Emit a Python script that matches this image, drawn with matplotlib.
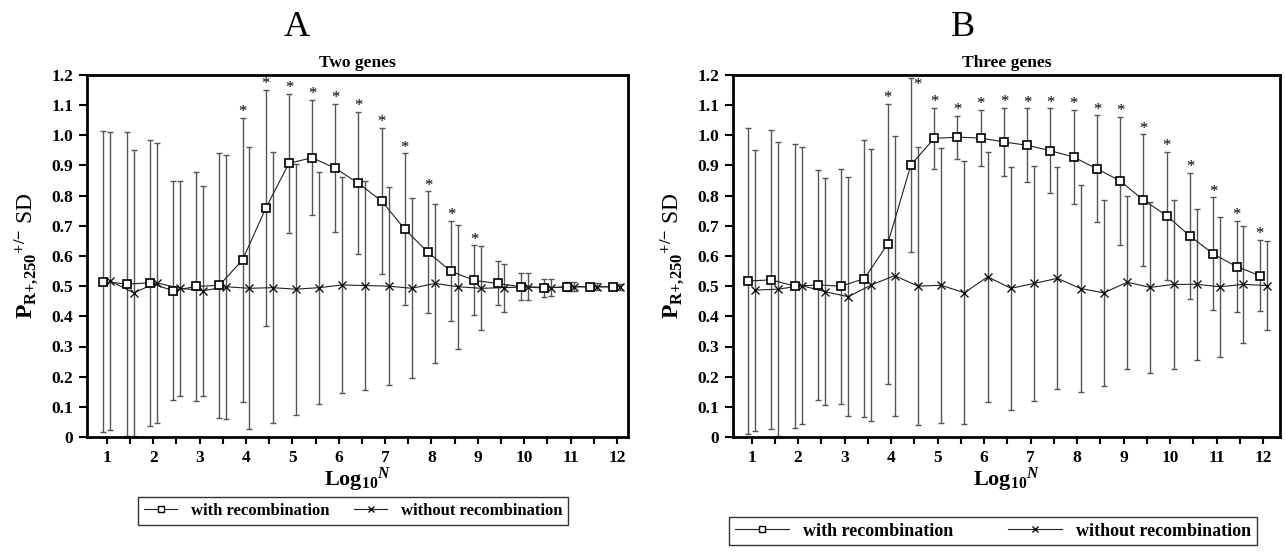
import matplotlib
matplotlib.use("Agg")
from matplotlib import pyplot as plt
from matplotlib.lines import Line2D
import numpy as np

plt.rcParams['font.family'] = ['Liberation Serif', 'DejaVu Serif']
plt.rcParams['font.weight'] = 'bold'
plt.rcParams['mathtext.fontset'] = 'custom'
plt.rcParams['mathtext.rm'] = 'Liberation Serif:bold'
plt.rcParams['mathtext.bf'] = 'Liberation Serif:bold'
plt.rcParams['mathtext.it'] = 'Liberation Serif:bold:italic'

# log10 N
log_n = [1, 1.5, 2, 2.5, 3, 3.5, 4, 4.5, 5, 5.5, 6, 6.5,
         7, 7.5, 8, 8.5, 9, 9.5, 10, 10.5, 11, 11.5, 12]

# two genes
a_rec_mean = [0.515, 0.507, 0.511, 0.485, 0.499, 0.503, 0.587, 0.758, 0.907, 0.926, 0.891, 0.841,
              0.782, 0.689, 0.612, 0.549, 0.519, 0.509, 0.498, 0.494, 0.498, 0.498, 0.498]
a_rec_sd = [0.498, 0.503, 0.474, 0.363, 0.380, 0.440, 0.472, 0.391, 0.230, 0.190, 0.213, 0.235,
            0.243, 0.251, 0.202, 0.166, 0.116, 0.073, 0.045, 0.030, 0.015, 0.010, 0.008]
a_norec_mean = [0.517, 0.478, 0.511, 0.493, 0.485, 0.498, 0.493, 0.495, 0.490, 0.495, 0.504, 0.502,
                0.500, 0.493, 0.509, 0.498, 0.493, 0.495, 0.498, 0.495, 0.498, 0.498, 0.498]
a_norec_sd = [0.493, 0.474, 0.463, 0.356, 0.348, 0.438, 0.467, 0.450, 0.416, 0.384, 0.357, 0.345,
              0.328, 0.298, 0.264, 0.205, 0.139, 0.079, 0.045, 0.028, 0.015, 0.012, 0.010]
a_star = [0, 0, 0, 0, 0, 0, 1, 1, 1, 1, 1, 1, 1, 1, 1, 1, 1, 0, 0, 0, 0, 0, 0]

# three genes
b_rec_mean = [0.517, 0.521, 0.500, 0.504, 0.500, 0.525, 0.640, 0.902, 0.990, 0.994, 0.991, 0.978,
              0.967, 0.949, 0.928, 0.889, 0.849, 0.785, 0.734, 0.666, 0.607, 0.565, 0.535]
b_rec_sd = [0.506, 0.496, 0.470, 0.380, 0.389, 0.460, 0.464, 0.288, 0.100, 0.071, 0.092, 0.113,
            0.122, 0.140, 0.157, 0.177, 0.212, 0.218, 0.212, 0.210, 0.187, 0.152, 0.118]
b_norec_mean = [0.487, 0.490, 0.502, 0.482, 0.465, 0.504, 0.535, 0.500, 0.503, 0.478, 0.531, 0.493,
                0.509, 0.526, 0.492, 0.478, 0.513, 0.496, 0.506, 0.506, 0.498, 0.506, 0.502]
b_norec_sd = [0.466, 0.487, 0.460, 0.376, 0.396, 0.450, 0.464, 0.460, 0.456, 0.436, 0.415, 0.402,
              0.390, 0.368, 0.343, 0.309, 0.287, 0.284, 0.280, 0.250, 0.232, 0.194, 0.148]
b_star = [0, 0, 0, 0, 0, 0, 1, 1, 1, 1, 1, 1, 1, 1, 1, 1, 1, 1, 1, 1, 1, 1, 1]

y_ticks = [0, 0.1, 0.2, 0.3, 0.4, 0.5, 0.6, 0.7, 0.8, 0.9, 1.0, 1.1, 1.2]
y_ticklabels = ['0', '0.1', '0.2', '0.3', '0.4', '0.5', '0.6', '0.7', '0.8', '0.9', '1.0', '1.1', '1.2']

SHIFT = 0.075  # side-by-side offset of the two series


def draw_panel(ax, rec_mean, rec_sd, norec_mean, norec_sd, stars, xlim, title):
    x = np.array(log_n)
    rm, rs = np.array(rec_mean), np.array(rec_sd)
    nm, ns = np.array(norec_mean), np.array(norec_sd)

    ax.errorbar(x + SHIFT, nm, yerr=ns, fmt='none', ecolor='#555555', elinewidth=1.0,
                capsize=2.3, capthick=1.0, zorder=2)
    ax.errorbar(x - SHIFT, rm, yerr=rs, fmt='none', ecolor='#555555', elinewidth=1.0,
                capsize=2.3, capthick=1.0, zorder=2)
    ax.plot(x + SHIFT, nm, color='#222222', lw=0.8, marker='x', ms=5.5, mew=1.0,
            mec='#111111', zorder=3)
    ax.plot(x - SHIFT, rm, color='#222222', lw=0.8, marker='s', ms=5.2, mew=1.2,
            mfc='white', mec='black', zorder=4)

    for xi, m, s, flag in zip(x, rm, rs, stars):
        if not flag:
            continue
        top = m + s
        if top > 1.17:
            # bar reaches the frame, star goes beside it
            ax.annotate('*', (xi - SHIFT, top), xytext=(4.5, -11), textcoords='offset points',
                        ha='center', va='bottom', fontsize=12, fontweight='normal',
                        annotation_clip=False)
        else:
            ax.annotate('*', (xi - SHIFT, top), xytext=(0, -1.5), textcoords='offset points',
                        ha='center', va='bottom', fontsize=12, fontweight='normal',
                        annotation_clip=False)

    ax.set_xlim(*xlim)
    ax.set_ylim(0, 1.2)
    ax.set_yticks(y_ticks)
    ax.set_yticklabels(y_ticklabels)
    ax.set_xticks(range(1, 13))
    ax.set_xticks(np.arange(1.5, 12, 1.0), minor=True)
    for side in ['left', 'right', 'top', 'bottom']:
        ax.spines[side].set_linewidth(2.0)
    ax.tick_params(axis='both', which='both', direction='out', width=1.5, labelsize=12.5)
    ax.tick_params(axis='y', length=6, pad=4)
    ax.tick_params(axis='x', which='both', length=5, pad=4)
    ax.set_title(title, fontsize=12.5, fontweight='bold', pad=6)
    ax.set_xlabel(r'$\mathrm{Log}_{\mathrm{10}}{}^{\mathit{N}}$', fontsize=16, labelpad=0)
    ax.set_ylabel(r'$\mathrm{P}_{\mathrm{R{+}{,}250}}{}^{\mathrm{{+}/{-}}}$ SD', fontsize=17, labelpad=8)


fig = plt.figure(figsize=(12.85, 5.52), dpi=100)
ax_a = fig.add_axes([87 / 1285, 115 / 552, 541 / 1285, 362 / 552])
ax_b = fig.add_axes([733 / 1285, 115 / 552, 547 / 1285, 362 / 552])

draw_panel(ax_a, a_rec_mean, a_rec_sd, a_norec_mean, a_norec_sd, a_star, (0.57, 12.24), 'Two genes')
draw_panel(ax_b, b_rec_mean, b_rec_sd, b_norec_mean, b_norec_sd, b_star, (0.60, 12.36), 'Three genes')

fig.text(297 / 1285, 1 - 28 / 552, 'A', fontsize=26, fontweight='normal', ha='center', va='center')
fig.text(963 / 1285, 1 - 28 / 552, 'B', fontsize=26, fontweight='normal', ha='center', va='center')

handles = [
    Line2D([], [], color='#222222', lw=0.8, marker='s', ms=5, mfc='white', mec='black'),
    Line2D([], [], color='#222222', lw=0.8, marker='x', ms=5, mec='#111111'),
]
names = ['with recombination', 'without recombination']
leg_a = fig.legend(handles, names, loc='center', bbox_to_anchor=(353 / 1285, 1 - 511 / 552),
                   ncol=2, fontsize=12, frameon=True, fancybox=False, edgecolor='black',
                   handlelength=2.0, columnspacing=1.5, borderpad=0.35)
leg_b = fig.legend(handles, names, loc='center', bbox_to_anchor=(993 / 1285, 1 - 531 / 552),
                   ncol=2, fontsize=13, frameon=True, fancybox=False, edgecolor='black',
                   handlelength=3.0, handletextpad=0.8, columnspacing=3.0, borderpad=0.3)
for leg in (leg_a, leg_b):
    leg.get_frame().set_linewidth(1.0)

fig.savefig('out.png', dpi=100)
